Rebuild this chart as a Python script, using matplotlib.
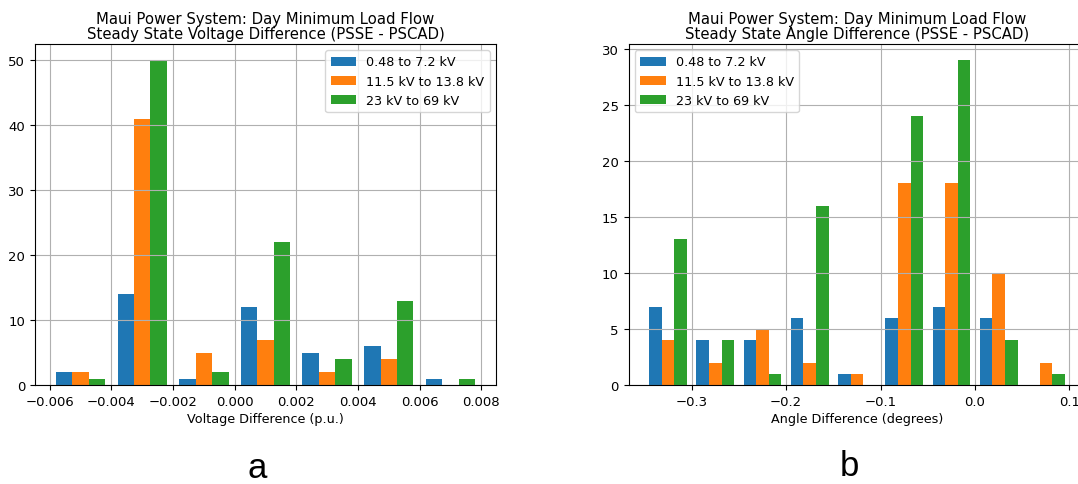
import matplotlib
matplotlib.use("Agg")
import matplotlib.pyplot as plt
import numpy as np

# Bus counts per bin for the three voltage classes
series_labels = ["0.48 to 7.2 kV", "11.5 kV to 13.8 kV", "23 kV to 69 kV"]

volt_edges = [-0.006, -0.004, -0.002, 0.000, 0.002, 0.004, 0.006, 0.008]
volt_low = [2, 14, 1, 12, 5, 6, 1]
volt_mid = [2, 41, 5, 7, 2, 4, 0]
volt_high = [1, 50, 2, 22, 4, 13, 1]

angle_edges = [-0.35, -0.30, -0.25, -0.20, -0.15, -0.10, -0.05, 0.00, 0.05, 0.10]
angle_low = [7, 4, 4, 6, 1, 6, 7, 6, 0]
angle_mid = [4, 2, 5, 2, 1, 18, 18, 10, 2]
angle_high = [13, 4, 1, 16, 0, 24, 29, 4, 1]

W, H = 1078, 485


def px_axes(fig, left, top, right, bottom):
    """Add axes from pixel box (origin top-left)."""
    return fig.add_axes([left / W, 1 - bottom / H,
                         (right - left) / W, (bottom - top) / H])


def draw_hist(ax, edges, counts, title, xlabel, legend_loc):
    edges = np.array(edges)
    centers = (edges[:-1] + edges[1:]) / 2
    ax.hist([centers] * 3, bins=edges, weights=counts, label=series_labels)
    ax.set_title(title, fontsize=10.7, pad=4, linespacing=1.05)
    ax.set_xlabel(xlabel, fontsize=9.2, labelpad=3)
    ax.tick_params(labelsize=9.5)
    ax.grid(True)
    ax.legend(loc=legend_loc, fontsize=9.2)


fig = plt.figure(figsize=(W / 100, H / 100), dpi=100)

ax1 = px_axes(fig, 35, 45, 496, 386)
draw_hist(ax1, volt_edges, [volt_low, volt_mid, volt_high],
          "Maui Power System: Day Minimum Load Flow\n"
          "Steady State Voltage Difference (PSSE - PSCAD)",
          "Voltage Difference (p.u.)", "upper right")
ax1.set_yticks([0, 10, 20, 30, 40, 50])

ax2 = px_axes(fig, 628.5, 45, 1085.5, 386)
draw_hist(ax2, angle_edges, [angle_low, angle_mid, angle_high],
          "Maui Power System: Day Minimum Load Flow\n"
          "Steady State Angle Difference (PSSE - PSCAD)",
          "Angle Difference (degrees)", "upper left")
ax2.set_yticks([0, 5, 10, 15, 20, 25, 30])

fig.text(257 / W, 1 - 469 / H, "a", fontsize=25, family="Liberation Sans",
         ha="center", va="center")
fig.text(849 / W, 1 - 467 / H, "b", fontsize=25, family="Liberation Sans",
         ha="center", va="center")

fig.savefig("out.png", dpi=100)
